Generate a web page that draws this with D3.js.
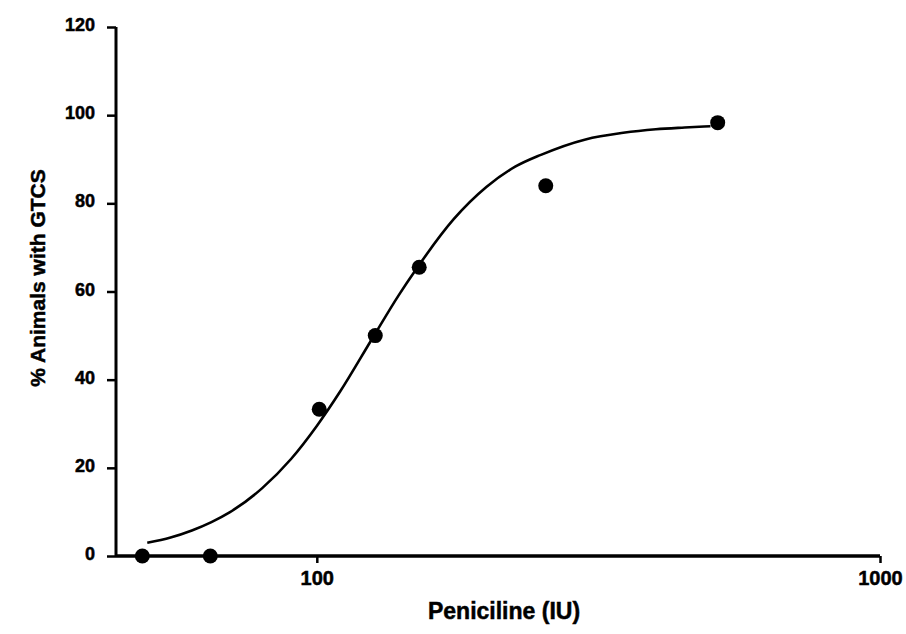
<!DOCTYPE html>
<html>
<head>
<meta charset="utf-8">
<script src="https://cdn.jsdelivr.net/npm/d3@7"></script>
<style>
  html, body { margin: 0; padding: 0; background: #fff; }
  svg { display: block; }
  text { font-family: "Liberation Sans", Arial, sans-serif; font-weight: bold; fill: #000; stroke: #000; stroke-width: 0.5px; }
</style>
</head>
<body>
<svg id="chart" width="906" height="634"></svg>
<script>
// Observed data points (dose in IU, % animals with GTCS)
const pointDoses  = [49, 64.7, 101, 127, 152, 255, 515];
const pointValues = [0, 0, 33.3, 50, 65.5, 84, 98.3];

// Fitted curve
const curveDoses  = [50, 55, 60, 65, 70, 80, 90, 100, 110, 125, 140, 150, 175, 200, 225, 250, 300, 350, 400, 450, 500];
const curveValues = [3.0, 4.2, 5.8, 7.7, 9.9, 15.4, 22.0, 29.5, 37.3, 49.0, 59.3, 65.0, 76.4, 83.7, 88.3, 91.0, 94.5, 96.0, 96.8, 97.2, 97.5];

const xTicks = [100, 1000];
const yTicks = [0, 20, 40, 60, 80, 100, 120];

const xLabel = "Peniciline (IU)";
const yLabel = "% Animals with GTCS";

const svg = d3.select("#chart");

const x = d3.scaleLog().domain([44, 1000]).range([116, 880]);
const y = d3.scaleLinear().domain([0, 120]).range([556, 27]);

// Y axis
const yAxis = d3.axisLeft(y).tickValues(yTicks).tickSize(9).tickPadding(12).tickFormat(d3.format("d"));
const gy = svg.append("g").attr("transform", `translate(${x.range()[0]},0)`).call(yAxis);
gy.select(".domain").attr("d", `M0,${y(120)}V${y(0)}`).attr("stroke", "#000").attr("stroke-width", 3);
gy.selectAll(".tick line").attr("stroke", "#000").attr("stroke-width", 2.5);
gy.selectAll(".tick text").style("font-size", "18px").attr("dy", "0.2em");

// X axis
const xAxis = d3.axisBottom(x).tickValues(xTicks).tickSize(7).tickPadding(8).tickFormat(d3.format("d"));
const gx = svg.append("g").attr("transform", `translate(0,${y(0)})`).call(xAxis);
gx.select(".domain").attr("d", `M${x.range()[0]},0H${x.range()[1]}`).attr("stroke", "#000").attr("stroke-width", 3.5);
gx.selectAll(".tick line").attr("stroke", "#000").attr("stroke-width", 2.5);
gx.selectAll(".tick text").style("font-size", "20px");

// Curve
const curveData = curveDoses.map((d, i) => [d, curveValues[i]]);
const line = d3.line().x(d => x(d[0])).y(d => y(d[1])).curve(d3.curveMonotoneX);
svg.append("path").datum(curveData)
  .attr("d", line)
  .attr("fill", "none")
  .attr("stroke", "#000")
  .attr("stroke-width", 2.6);

// Points
const pts = pointDoses.map((d, i) => [d, pointValues[i]]);
svg.append("g").selectAll("circle").data(pts).join("circle")
  .attr("cx", d => x(d[0]))
  .attr("cy", d => y(d[1]))
  .attr("r", 7.5)
  .attr("fill", "#000");

// Axis titles
svg.append("text")
  .attr("x", 504).attr("y", 619)
  .attr("text-anchor", "middle")
  .style("font-size", "23px")
  .text(xLabel);

svg.append("text")
  .attr("transform", `translate(45,278) rotate(-90)`)
  .attr("text-anchor", "middle")
  .style("font-size", "21px")
  .text(yLabel);
</script>
</body>
</html>
